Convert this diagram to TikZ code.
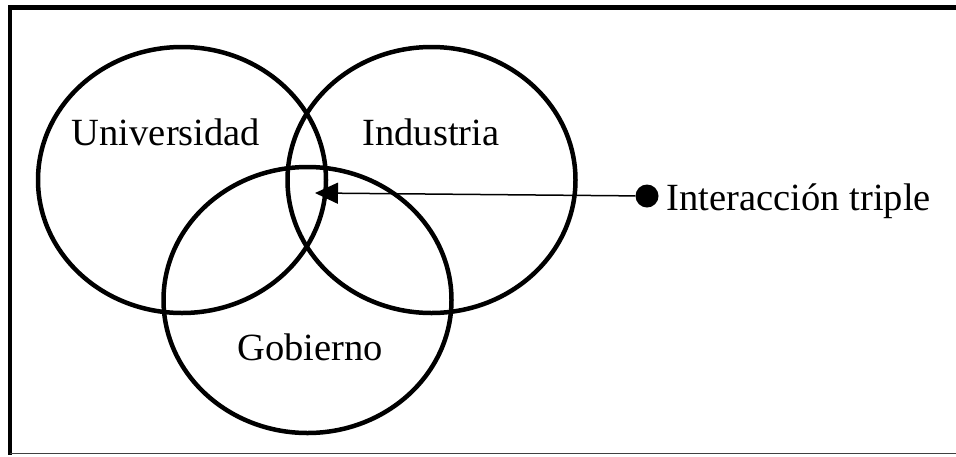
\documentclass[tikz,border=0pt]{standalone}
\usepackage{fontspec}
\setmainfont{Liberation Serif}
\usepackage{tikz}
\usetikzlibrary{arrows.meta, positioning, shapes.geometric}

\begin{document}
\begin{tikzpicture}[>=Stealth, x=1pt, y=-1pt, font=\fontsize{38.5}{46}\selectfont,
  sector/.style={draw, ellipse, line width=4.5pt, inner sep=0pt,
    minimum width=288pt, minimum height=266pt},
  label/.style={anchor=base, inner sep=0pt}]
  \useasboundingbox (0,0) rectangle (956,456);
  % frame
  \draw[line width=5pt] (8,7.5) -- (956,7.5);
  \draw[line width=4pt] (10,5) -- (10,455);
  \draw[line width=1.5pt, black!75] (10,453.5) -- (956,453.5);
  % the three spheres
  \node[sector] (univ) at (182,180) {};
  \node[sector] (ind) at (431.5,180) {};
  \node[sector] (gob) at (307.5,300) {};
  \node[label] (univtext) at (166,145) {Universidad};
  \node[label] (indtext) at (431,145) {Industria};
  \node[label] (gobtext) at (310,360) {Gobierno};
  % pointer to the centre
  \coordinate (triple) at (315,193);
  \node[circle, fill, inner sep=0pt, minimum size=23pt] (dot) at (647,196) {};
  \node[right=8pt of dot, inner sep=0pt, yshift=-5pt] (dottext) {Interacción triple};
  \draw[-{Triangle[length=23pt, width=21pt]}, line width=1.5pt] (dot) -- (triple);
\end{tikzpicture}
\end{document}
